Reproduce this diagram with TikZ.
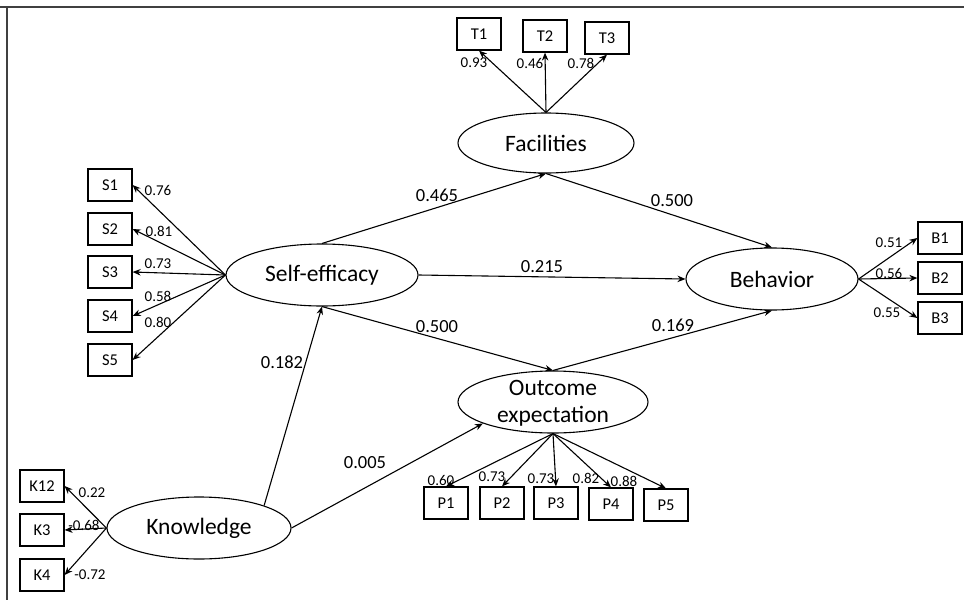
\documentclass[tikz,border=0pt]{standalone}
\usepackage{fontspec}
\setmainfont{Carlito}
\usetikzlibrary{arrows.meta,shapes.geometric}
\begin{document}
\begin{tikzpicture}[x=1pt,y=-1pt,
  box/.style={draw,line width=1.2pt,minimum width=44pt,minimum height=32pt,inner sep=0pt,font=\fontsize{16.5}{16.5}\selectfont},
  lat/.style={draw,ellipse,line width=1.1pt,inner sep=0pt,minimum height=62pt},
  lattxt/.style={inner sep=0pt,align=center,font=\fontsize{23.5}{27}\selectfont},
  arr/.style={-{Stealth[length=8pt,width=6.5pt]},line width=1.1pt},
  ld/.style={inner sep=0pt,font=\fontsize{15}{15}\selectfont},
  pl/.style={inner sep=0pt,font=\fontsize{18.5}{18.5}\selectfont},
  frame/.style={line width=1.2pt,black!75}]
\useasboundingbox (0,0) rectangle (964,600);
\coordinate (fa) at (0,7);
\coordinate (fb) at (964,7);
\coordinate (fc) at (7,7);
\coordinate (fd) at (7,600);
\draw[frame] (fa) -- (fb);
\draw[frame] (fc) -- (fd);

% latent variables
\node[lat,minimum width=176pt,minimum height=60pt] (fac) at (546,143) {};
\node[lattxt] (fact) at (fac.center) {Facilities};
\node[lat,minimum width=192pt] (se) at (322,275) {};
\node[lattxt] (set) at (se.center) {Self-efficacy};
\node[lat,minimum width=172pt] (beh) at (772,279) {};
\node[lattxt] (beht) at (beh.center) {Behavior};
\node[lat,minimum width=190pt] (out) at (553,402) {};
\node[lattxt] (outt) at ([yshift=-1pt]out.center) {Outcome\\expectation};
\node[lat,minimum width=184pt] (kn) at (199,528) {};
\node[lattxt] (knt) at (kn.center) {Knowledge};

% indicators
\node[box] (t1) at (479,34) {T1};
\node[box] (t2) at (545,36) {T2};
\node[box] (t3) at (607,38) {T3};
\node[box] (s1) at (110,185) {S1};
\node[box] (s2) at (110,229) {S2};
\node[box] (s3) at (110,272) {S3};
\node[box] (s4) at (110,316) {S4};
\node[box] (s5) at (110,360) {S5};
\node[box] (b1) at (940,238) {B1};
\node[box] (b2) at (940,278) {B2};
\node[box] (b3) at (940,318) {B3};
\node[box] (p1) at (446,503) {P1};
\node[box] (p2) at (502,503) {P2};
\node[box] (p3) at (556,503) {P3};
\node[box] (p4) at (611,504) {P4};
\node[box] (p5) at (666,505) {P5};
\node[box] (k12) at (42,486) {K12};
\node[box] (k3) at (42,530) {K3};
\node[box] (k4) at (42,575) {K4};

% measurement arrows
\foreach \n in {t1,t2,t3} \draw[arr] (fac.north) -- (\n.south);
\foreach \n in {s1,s2,s3,s4,s5} \draw[arr] (se.west) -- (\n.east);
\foreach \n in {b1,b2,b3} \draw[arr] (beh.east) -- (\n.west);
\foreach \n in {p1,p2,p3,p4,p5} \draw[arr] (out.south) -- (\n.north);
\foreach \n in {k12,k3,k4} \draw[arr] (kn.west) -- (\n.east);

% structural arrows
\draw[arr] (se.north) -- (fac.south);
\draw[arr] (fac.south) -- (beh.north);
\draw[arr] (se.east) -- (beh.west);
\draw[arr] (se.south) -- (out.north);
\draw[arr] (out.north) -- (beh.south);
\draw[arr] (kn.19) -- (se.south);
\draw[arr] (kn.east) -- (out.197);

% loading labels
\node[ld] (lt1) at (474,63) {0.93};
\node[ld] (lt2) at (530,63) {0.46};
\node[ld] (lt3) at (581,63) {0.78};
\node[ld] (ls1) at (158,190) {0.76};
\node[ld] (ls2) at (159,231) {0.81};
\node[ld] (ls3) at (158,264) {0.73};
\node[ld] (ls4) at (158,296) {0.58};
\node[ld] (ls5) at (158,322) {0.80};
\node[ld] (lb1) at (889,243) {0.51};
\node[ld] (lb2) at (889,273) {0.56};
\node[ld] (lb3) at (887,313) {0.55};
\node[ld] (lp1) at (441,480) {0.60};
\node[ld] (lp2) at (492,477) {0.73};
\node[ld] (lp3) at (541,479) {0.73};
\node[ld] (lp4) at (586,478) {0.82};
\node[ld] (lp5) at (624,481) {0.88};
\node[ld] (lk1) at (92,493) {0.22};
\node[ld] (lk2) at (84,525) {-0.68};
\node[ld] (lk3) at (90,575) {-0.72};

% path labels
\node[pl] (l1) at (437,195) {0.465};
\node[pl] (l2) at (672,201) {0.500};
\node[pl] (l3) at (542,267) {0.215};
\node[pl] (l4) at (437,327) {0.500};
\node[pl] (l5) at (673,325) {0.169};
\node[pl] (l6) at (282,362) {0.182};
\node[pl] (l7) at (365,463) {0.005};
\end{tikzpicture}
\end{document}
